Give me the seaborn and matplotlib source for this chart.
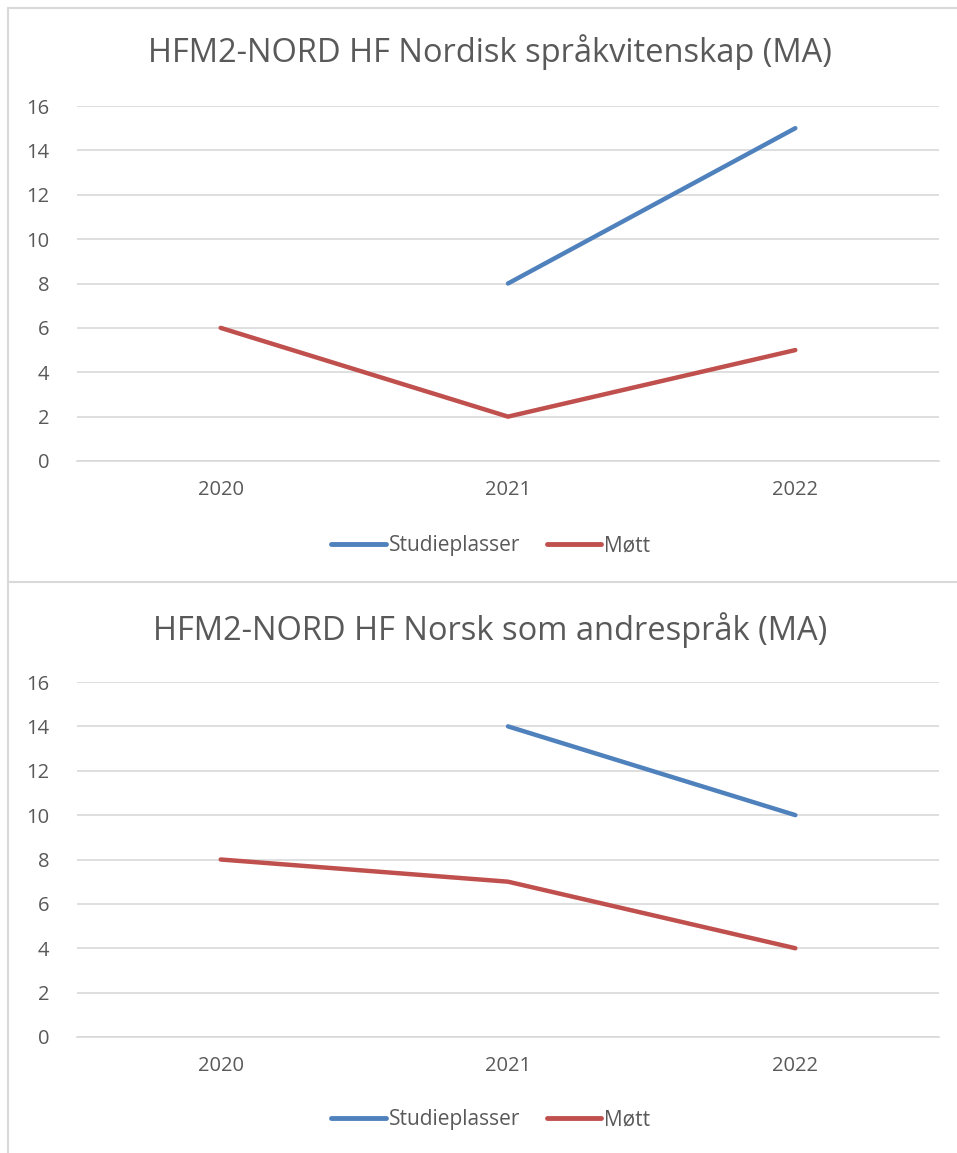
import numpy as np
import pandas as pd
import matplotlib
matplotlib.use("Agg")
import matplotlib.pyplot as plt
from matplotlib.lines import Line2D
import seaborn as sns

years = ["2020", "2021", "2022"]
series = ["Studieplasser", "Møtt"]

titles = [
    "HFM2-NORD HF Nordisk språkvitenskap (MA)",
    "HFM2-NORD HF Norsk som andrespråk (MA)",
]
studieplasser = [
    [np.nan, 8, 15],
    [np.nan, 14, 10],
]
mott = [
    [6, 2, 5],
    [8, 7, 4],
]
yticks = [0, 2, 4, 6, 8, 10, 12, 14, 16]

BLUE = "#4F81BD"
RED = "#C0504D"
GREY_TEXT = "#595959"
GRID = "#D9D9D9"

sns.set_theme(style="white")
plt.rcParams["font.family"] = ["Open Sans", "DejaVu Sans"]

W, H = 957, 1153
fig = plt.figure(figsize=(W / 100, H / 100), dpi=100)


def px_axes(left, top, right, bottom):
    return fig.add_axes([left / W, 1 - bottom / H, (right - left) / W, (bottom - top) / H])


# plot area boxes in pixels: (left, top, right, bottom)
boxes = [(77, 106, 939, 461), (77, 682, 939, 1037)]
title_y = [52, 630]
legend_y = [546, 1120]

for i in range(2):
    df = pd.DataFrame({
        "year": years * 2,
        "value": list(studieplasser[i]) + list(mott[i]),
        "serie": [series[0]] * 3 + [series[1]] * 3,
    }).dropna()
    df["x"] = df["year"].map({y: k for k, y in enumerate(years)})

    ax = px_axes(*boxes[i])
    sns.lineplot(data=df, x="x", y="value", hue="serie", hue_order=series,
                 palette=[BLUE, RED], linewidth=3.2, solid_capstyle="round",
                 legend=False, ax=ax)
    ax.set_xlim(-0.5, 2.5)
    ax.set_ylim(0, 16)
    ax.set_xticks(range(len(years)))
    ax.set_xticklabels(years)
    ax.set_yticks(yticks)
    ax.set_xlabel("")
    ax.set_ylabel("")
    ax.grid(axis="y", color=GRID, linewidth=1.2)
    ax.set_axisbelow(True)
    for s in ["top", "right", "left"]:
        ax.spines[s].set_visible(False)
    ax.spines["bottom"].set_color(GRID)
    ax.spines["bottom"].set_linewidth(1.2)
    ax.tick_params(axis="both", length=0, labelsize=14.5, colors=GREY_TEXT)
    ax.tick_params(axis="y", pad=20)
    ax.tick_params(axis="x", pad=14)

    fig.text(490 / W, 1 - title_y[i] / H, titles[i], ha="center", va="center",
             fontsize=23.5, color=GREY_TEXT)

    handles = [Line2D([], [], color=BLUE, linewidth=3.5, solid_capstyle="round"),
               Line2D([], [], color=RED, linewidth=3.5, solid_capstyle="round")]
    fig.legend(handles, series, loc="center", bbox_to_anchor=(491 / W, 1 - legend_y[i] / H),
               ncol=2, frameon=False, fontsize=15, labelcolor=GREY_TEXT,
               handlelength=2.6, handletextpad=0.15, columnspacing=1.3)

# chart borders
border = dict(color=GRID, linewidth=1.5, transform=fig.transFigure)
fig.add_artist(Line2D([8 / W, 1], [1 - 8 / H, 1 - 8 / H], **border))
fig.add_artist(Line2D([8 / W, 8 / W], [1 - 8 / H, 0], **border))
fig.add_artist(Line2D([8 / W, 1], [1 - 582 / H, 1 - 582 / H], **border))

fig.savefig("out.png", dpi=100, facecolor="white")
